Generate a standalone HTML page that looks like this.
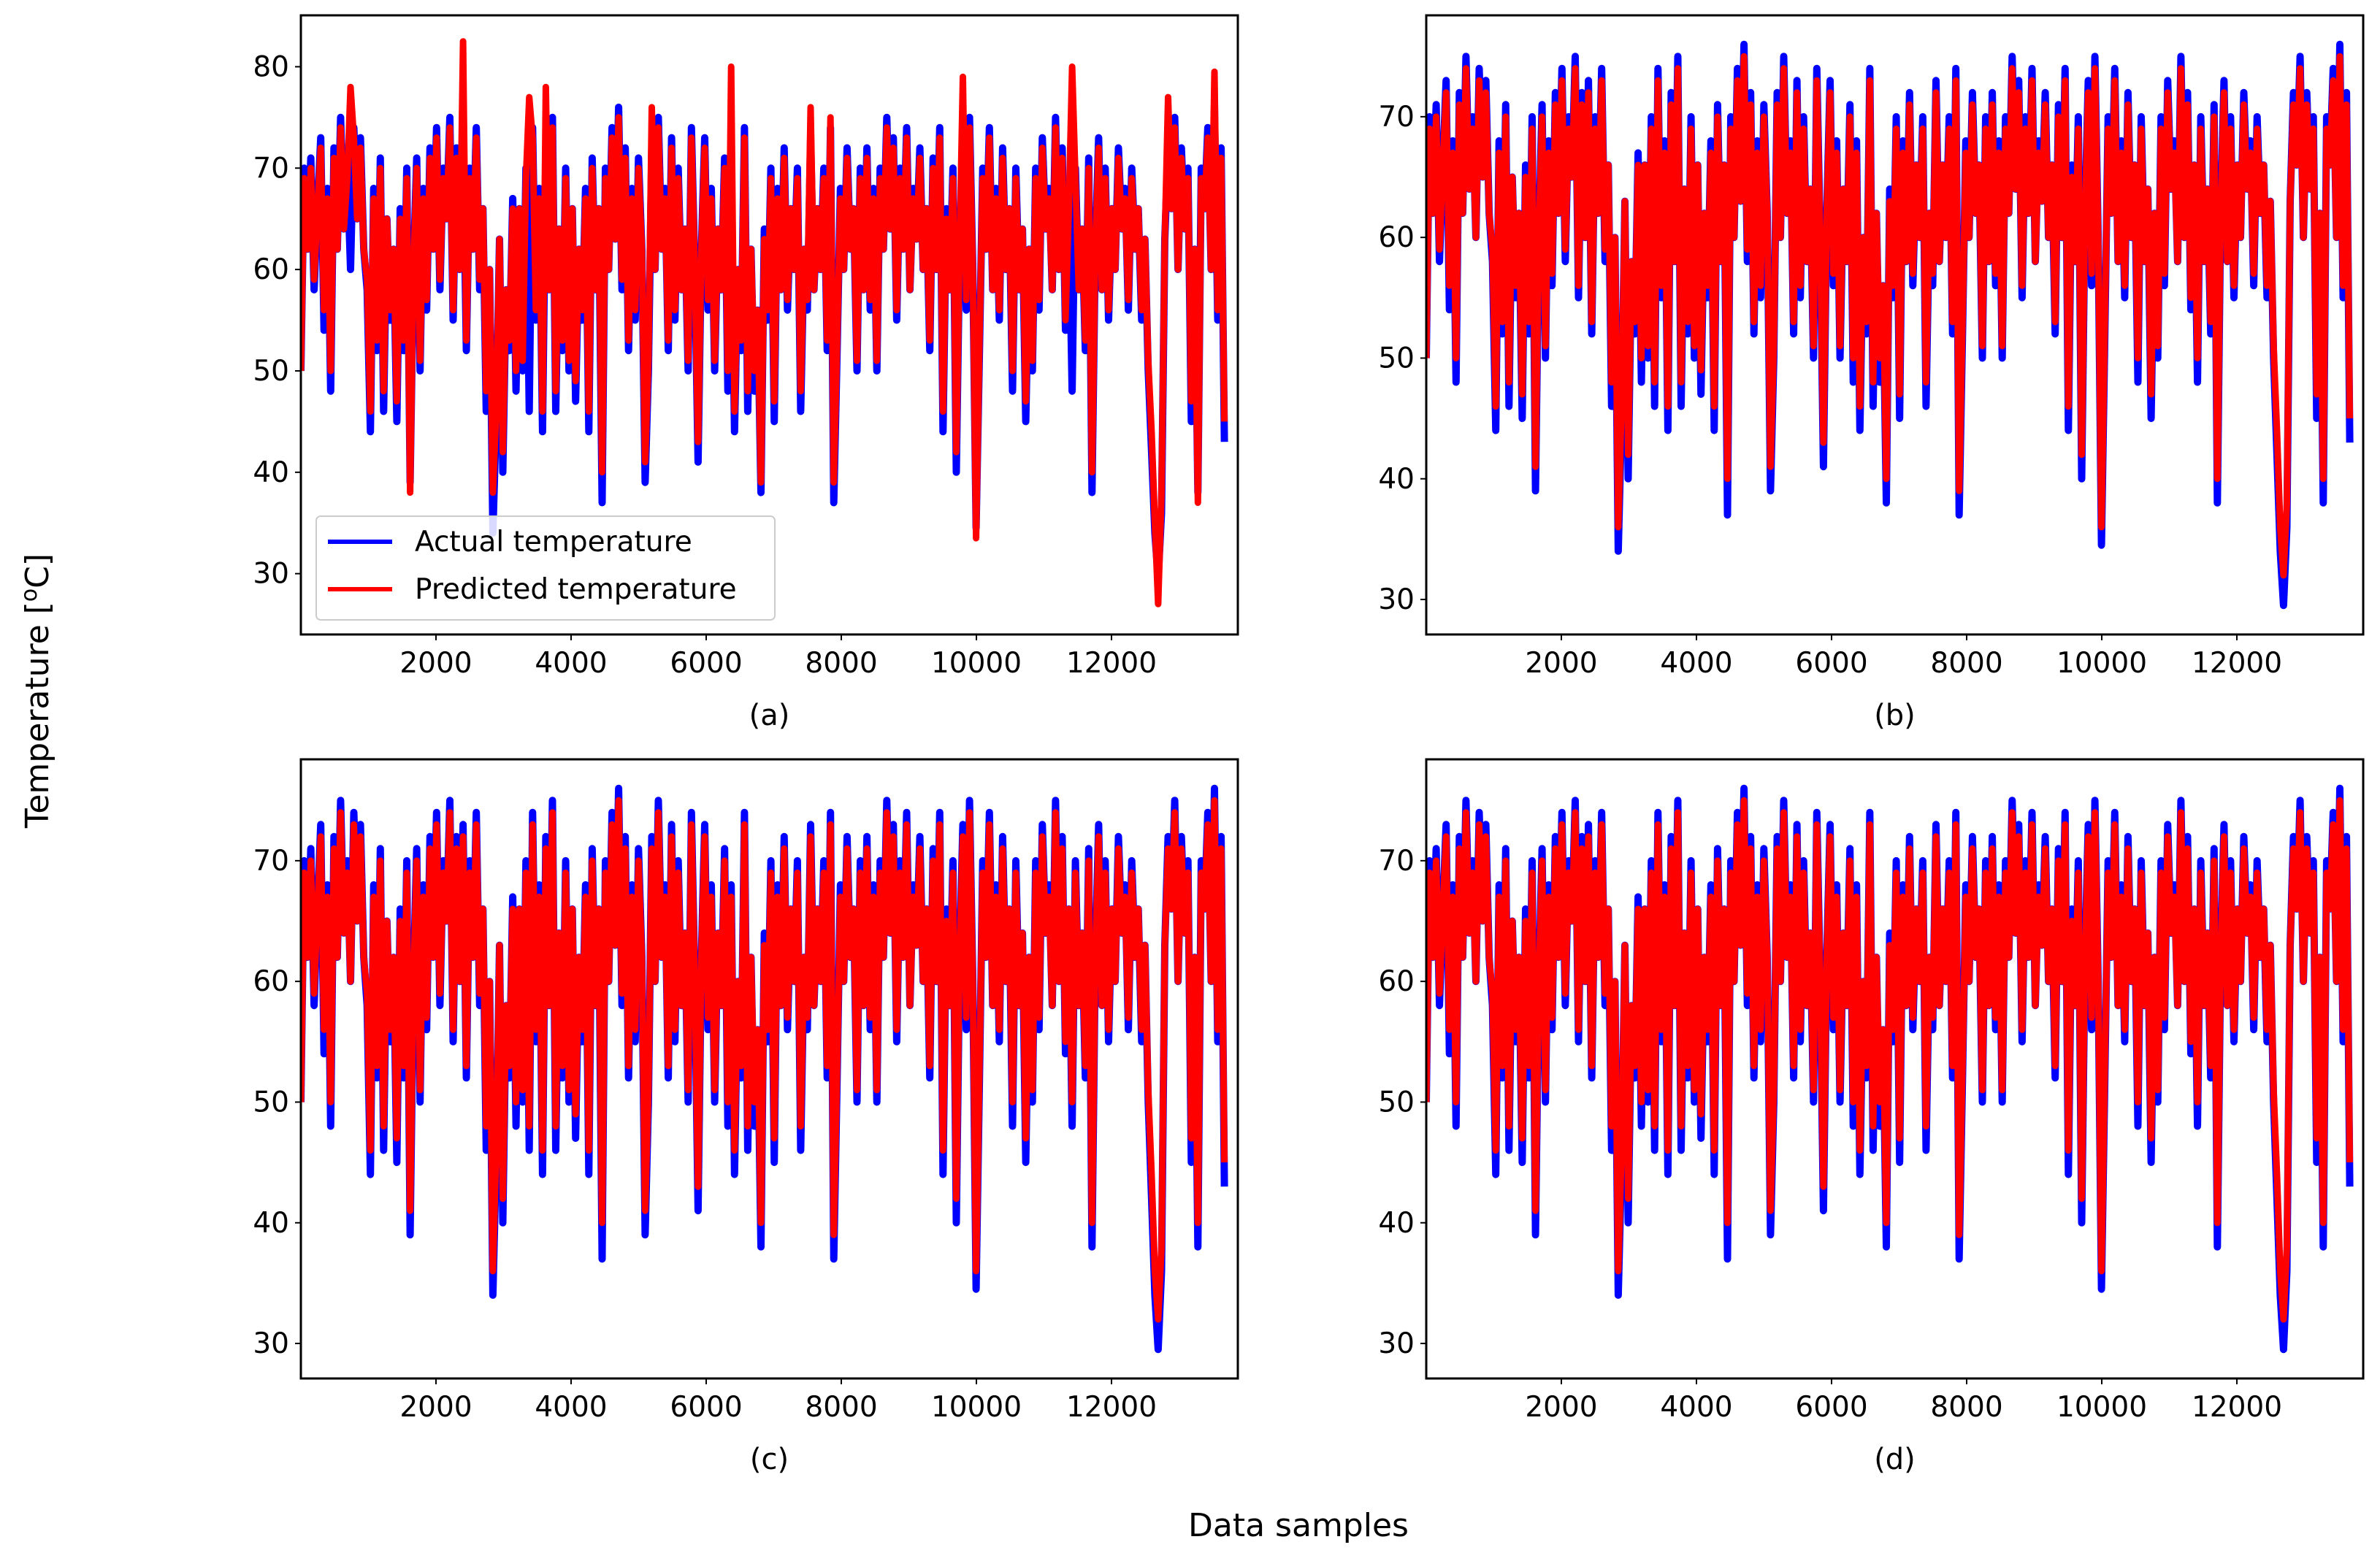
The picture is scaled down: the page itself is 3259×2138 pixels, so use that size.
<!DOCTYPE html>
<html><head><meta charset="utf-8"><style>
html,body{margin:0;padding:0;background:#fff;}
svg{display:block;font-family:"DejaVu Sans","Liberation Sans",sans-serif;}
</style></head><body>
<svg id="fig" width="3259" height="2138" viewBox="0 0 3259 2138" xmlns="http://www.w3.org/2000/svg">
<rect width="3259" height="2138" fill="#fff"/>
<text x="0" y="0" transform="translate(66,946) rotate(-90)" text-anchor="middle" font-size="44" fill="#000">Temperature [<tspan font-size="30" dy="-16">o</tspan><tspan dy="16">C]</tspan></text>
<text x="1778" y="2104" text-anchor="middle" font-size="44" fill="#000">Data samples</text>
</svg>
<script>
const xTicks = [2000,4000,6000,8000,10000,12000];
const yTicksA = [30,40,50,60,70,80];
const yTicksB = [30,40,50,60,70];
const step = 49;
const actual = [50,70,62,71,58,66,73,54,68,48,
72,62,75,64,70,60,74,65,73,62,
58,44,68,52,71,46,65,55,62,45,
66,52,70,39,60,71,50,68,56,72,
62,74,58,70,65,75,55,72,60,73,
52,70,62,74,58,66,46,60,34,45,
63,40,58,52,67,48,66,50,70,46,
74,55,68,44,72,58,75,46,64,52,
70,50,66,47,62,55,68,44,71,58,
66,37,70,60,74,63,76,58,72,52,
68,55,71,62,39,50,72,60,75,62,
68,52,73,55,70,58,64,50,74,60,
41,62,73,56,68,50,64,58,71,48,
68,44,60,52,74,46,62,48,56,38,
64,55,70,45,68,58,72,56,66,60,
70,46,62,56,73,58,66,60,70,52,
74,37,52,68,60,72,62,66,50,70,
58,72,56,68,50,70,62,75,64,73,
55,70,62,74,58,68,63,72,60,66,
52,71,60,74,44,66,58,70,40,62,
73,56,75,60,34.5,52,70,62,74,58,
68,55,72,60,66,48,70,58,64,45,
62,50,70,56,73,64,68,58,75,60,
72,54,66,48,70,58,64,52,71,38,
62,73,58,70,55,66,60,72,64,68,
56,70,62,66,55,63,50,42,34,29.5,
36,63,72,66,75,60,72,64,70,45,
62,38,70,66,74,60,76,55,72,43];
const predBCD = [50,69,62,70,59,66,72,56,67,50,
71,62,74,64,69,60,73,65,72,62,
59,46,67,53,70,48,65,56,62,47,
65,53,69,41,60,70,51,67,57,71,
62,73,59,69,65,74,56,71,60,72,
53,69,62,73,59,66,48,60,36,46,
63,42,58,53,66,50,66,51,69,48,
73,56,67,46,71,58,74,48,64,53,
69,51,66,49,62,56,67,46,70,58,
66,40,69,60,73,63,75,59,71,53,
67,56,70,62,41,51,71,60,74,62,
67,53,72,56,69,58,64,51,73,60,
43,62,72,57,67,51,64,58,70,50,
67,46,60,53,73,48,62,50,56,40,
63,56,69,47,67,58,71,57,66,60,
69,48,62,57,72,58,66,60,69,53,
73,39,53,67,60,71,62,66,51,69,
58,71,57,67,51,69,62,74,64,72,
56,69,62,73,58,67,63,71,60,66,
53,70,60,73,46,65,58,69,42,62,
72,57,74,60,36,53,69,62,73,58,
67,56,71,60,66,50,69,58,64,47,
62,51,69,57,72,64,67,58,74,60,
71,55,66,50,69,58,64,53,70,40,
62,72,58,69,56,66,60,71,64,67,
57,69,62,66,56,63,51,44,36,32,
38,63,71,66,74,60,71,64,69,47,
62,40,69,66,73,60,75,56,71,45];
const predA = [50,69,62,70,59,66,72,56,67,50,
71,62,74,64,69,78,73,65,72,62,
59,46,67,53,70,48,65,56,62,47,
65,53,69,38,60,70,51,67,57,71,
62,73,59,69,65,74,56,71,60,82.5,
53,69,62,73,59,66,48,60,38,46,
63,42,58,53,66,50,66,51,69,77,
73,56,67,46,78,58,74,48,64,53,
69,51,66,49,62,56,67,46,70,58,
66,40,69,60,73,63,75,59,71,53,
67,56,70,62,41,51,76,60,74,62,
67,53,72,56,69,58,64,51,73,60,
43,62,72,57,67,51,64,58,70,50,
80,46,60,53,73,48,62,50,56,39,
63,56,69,47,67,58,71,57,66,60,
69,48,62,57,76,58,66,60,69,53,
75,39,53,67,60,71,62,66,51,69,
58,71,57,67,51,69,62,74,64,72,
56,69,62,73,58,67,63,71,60,66,
53,70,60,73,46,65,58,69,42,62,
79,57,74,60,33.5,53,69,62,73,58,
67,56,71,60,66,50,69,58,64,47,
62,51,69,57,72,64,67,58,74,60,
71,55,66,80,69,58,64,53,70,40,
62,72,58,69,56,66,60,71,64,67,
57,69,62,66,56,63,51,44,35,27,
38,63,77,66,74,60,71,64,69,47,
62,37,69,66,73,60,79.5,56,71,45];
const panels = [
 {id:'a', left:412, top:21, w:1283, h:848, ymin:24.0, ymax:85.07, yt:yTicksA, pred:predA},
 {id:'b', left:1953, top:21, w:1283, h:848, ymin:27.1, ymax:78.4, yt:yTicksB, pred:predBCD},
 {id:'c', left:412, top:1040, w:1283, h:848, ymin:27.1, ymax:78.4, yt:yTicksB, pred:predBCD},
 {id:'d', left:1953, top:1040, w:1283, h:848, ymin:27.1, ymax:78.4, yt:yTicksB, pred:predBCD}
];
const NS='http://www.w3.org/2000/svg';
const svg=document.getElementById('fig');
function mk(t,at,parent){const e=document.createElementNS(NS,t);for(const k in at)e.setAttribute(k,at[k]);(parent||svg).appendChild(e);return e;}
const xmin=0,xmax=13870;
panels.forEach(p=>{
  const g=mk('g',{});
  
  
  const sx=v=>p.left+(v-xmin)/(xmax-xmin)*p.w;
  const sy=v=>p.top+p.h-(v-p.ymin)/(p.ymax-p.ymin)*p.h;
  const cp=mk('clipPath',{id:'clip'+p.id},g);
  mk('rect',{x:p.left,y:p.top,width:p.w,height:p.h},cp);
  const pts=(arr)=>arr.map((v,i)=>sx(i*step).toFixed(1)+','+sy(v).toFixed(1)).join(' ');
  const la=mk('polyline',{points:pts(actual),fill:'none',stroke:'#0000ff','stroke-width':10,'stroke-linejoin':'round','clip-path':'url(#clip'+p.id+')'},g);
  
  
  const lp=mk('polyline',{points:pts(p.pred),fill:'none',stroke:'#ff0000','stroke-width':9,'stroke-linejoin':'round','clip-path':'url(#clip'+p.id+')'},g);
  
  
  const fr=mk('rect',{x:p.left,y:p.top,width:p.w,height:p.h,fill:'none',stroke:'#000','stroke-width':3},g);
  
  
  xTicks.forEach(t=>{
    const x=sx(t);
    mk('line',{x1:x,x2:x,y1:p.top+p.h,y2:p.top+p.h+8,stroke:'#000','stroke-width':2},g);
    const tx=mk('text',{x:x,y:p.top+p.h+52,'text-anchor':'middle','font-size':39},g);
    
    
    tx.textContent=t;
  });
  p.yt.forEach(t=>{
    const y=sy(t);
    mk('line',{x1:p.left-8,x2:p.left,y1:y,y2:y,stroke:'#000','stroke-width':2},g);
    const ty=mk('text',{x:p.left-16,y:y+13,'text-anchor':'end','font-size':39},g);
    
    
    ty.textContent=t;
  });
  const cap=mk('text',{x:p.left+p.w/2,y:p.top+p.h+124,'text-anchor':'middle','font-size':40},g);
  
  
  cap.textContent='('+p.id+')';
});
const lg=mk('g',{});


mk('rect',{x:433,y:707,width:628,height:142,rx:6,fill:'#fff','fill-opacity':0.85,stroke:'#ccc','stroke-width':2},lg);
mk('line',{x1:449,x2:537,y1:742,y2:742,stroke:'#0000ff','stroke-width':6},lg);
const t1=mk('text',{x:568,y:755,'font-size':39},lg);


t1.textContent='Actual temperature';
mk('line',{x1:449,x2:537,y1:807,y2:807,stroke:'#ff0000','stroke-width':6},lg);
const t2=mk('text',{x:568,y:820,'font-size':39},lg);


t2.textContent='Predicted temperature';
</script>
</body></html>
